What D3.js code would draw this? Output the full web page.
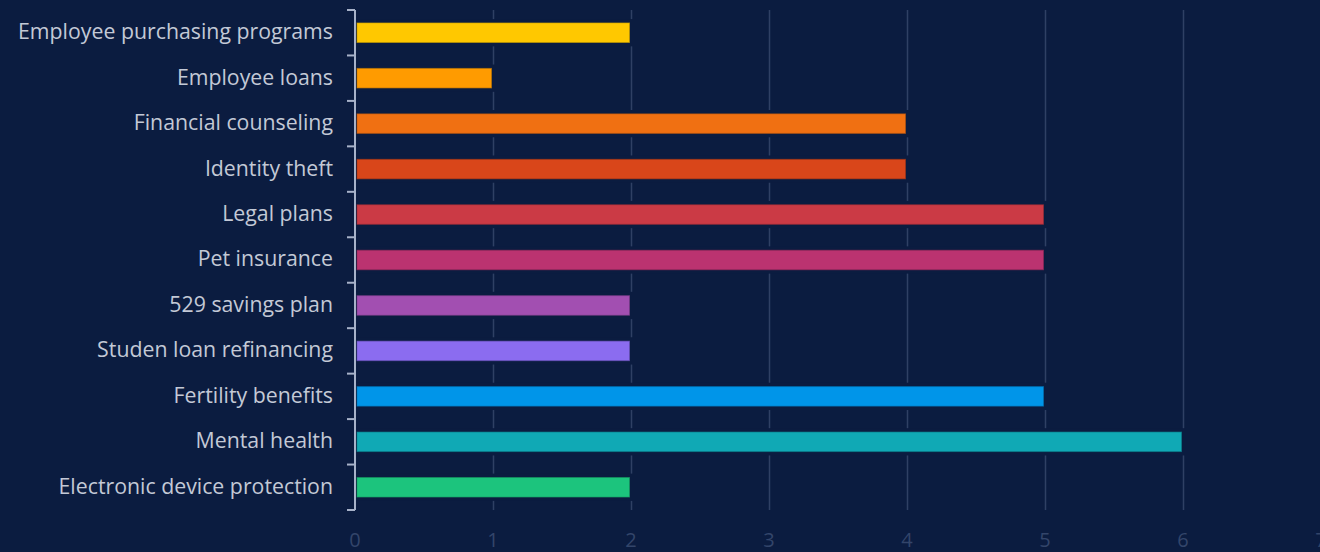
<!DOCTYPE html>
<html>
<head>
<meta charset="utf-8">
<script src="https://cdn.jsdelivr.net/npm/d3@7"></script>
<style>
  html, body { margin: 0; padding: 0; background: #0b1c40; }
  svg { display: block; }
  text { font-family: "Open Sans", "Noto Sans", sans-serif; }
</style>
</head>
<body>
<svg id="chart" width="1320" height="552"></svg>
<script>
// Benefit categories, top to bottom
const categories = [
  "Employee purchasing programs",
  "Employee loans",
  "Financial counseling",
  "Identity theft",
  "Legal plans",
  "Pet insurance",
  "529 savings plan",
  "Studen loan refinancing",
  "Fertility benefits",
  "Mental health",
  "Electronic device protection"
];
const values = [2, 1, 4, 4, 5, 5, 2, 2, 5, 6, 2];
const colors = [
  "#ffc800", "#ff9b00", "#f07012", "#d9461a", "#cb3a45", "#bb3370",
  "#a24fb1", "#8b6cf0", "#0095e9", "#10a9b5", "#1cc47d"
];
const xTicks = [0, 1, 2, 3, 4, 5, 6, 7];

const W = 1320, H = 552;
const bg = "#0b1c40";
const plot = { left: 355, top: 10, bottom: 510 };

const svg = d3.select("#chart");
svg.append("rect").attr("width", W).attr("height", H).attr("fill", bg);

const x = d3.scaleLinear().domain([0, 7]).range([plot.left, plot.left + 7 * 138]);
const y = d3.scaleBand().domain(categories).range([plot.top, plot.bottom]).padding(0);

// Vertical gridlines
svg.append("g")
  .selectAll("line")
  .data(xTicks.filter(t => t > 0))
  .join("line")
  .attr("x1", d => x(d) + 0.5).attr("x2", d => x(d) + 0.5)
  .attr("y1", plot.top).attr("y2", plot.bottom)
  .attr("stroke", "#2f4064").attr("stroke-width", 1.5);

// X tick labels
svg.append("g")
  .selectAll("text")
  .data(xTicks)
  .join("text")
  .attr("x", d => x(d))
  .attr("y", 547)
  .attr("text-anchor", "middle")
  .attr("font-size", 20)
  .attr("fill", "#33456a")
  .text(d => d);

const data = categories.map((c, i) => ({ c, v: values[i], color: colors[i] }));
const bw = y.bandwidth();
const barH = bw * 0.43;
const gapH = bw * 0.6;

// Background-coloured clearance around each bar (interrupts gridlines)
svg.append("g")
  .selectAll("rect")
  .data(data)
  .join("rect")
  .attr("x", x(0))
  .attr("width", d => x(d.v) - x(0) + 2)
  .attr("y", d => y(d.c) + bw / 2 - gapH / 2)
  .attr("height", gapH)
  .attr("fill", bg);

// Bars
svg.append("g")
  .selectAll("rect")
  .data(data)
  .join("rect")
  .attr("x", x(0) + 2)
  .attr("width", d => x(d.v) - x(0) - 3.5)
  .attr("y", d => y(d.c) + bw / 2 - barH / 2)
  .attr("height", barH)
  .attr("fill", d => d.color)
  .attr("stroke", d => d3.color(d.color).darker(0.7))
  .attr("stroke-opacity", 0.6)
  .attr("stroke-width", 1);

// Y axis line with ticks on band boundaries
const yAxis = svg.append("g");
yAxis.append("line")
  .attr("x1", plot.left).attr("x2", plot.left)
  .attr("y1", plot.top).attr("y2", plot.bottom)
  .attr("stroke", "#a7b2c9").attr("stroke-width", 2);
const boundaries = categories.map(c => y(c)).concat([plot.bottom]);
yAxis.selectAll("line.tick")
  .data(boundaries)
  .join("line")
  .attr("class", "tick")
  .attr("x1", plot.left - 8).attr("x2", plot.left)
  .attr("y1", d => d).attr("y2", d => d)
  .attr("stroke", "#a7b2c9").attr("stroke-width", 2);

// Category labels
yAxis.selectAll("text")
  .data(categories)
  .join("text")
  .attr("x", 333)
  .attr("y", d => y(d) + bw / 2 - 1)
  .attr("dy", "0.35em")
  .attr("text-anchor", "end")
  .attr("font-size", 21.3)
  .attr("fill", "#c3c9d6")
  .text(d => d);
</script>
</body>
</html>
